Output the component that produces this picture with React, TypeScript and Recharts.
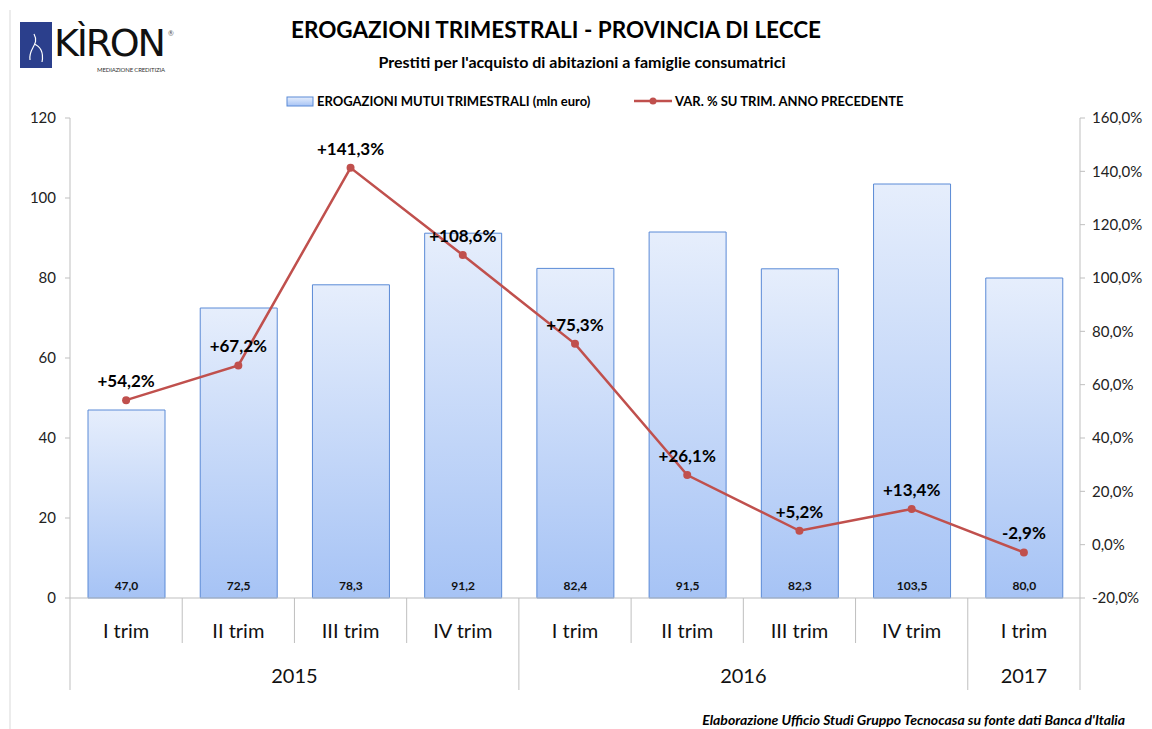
import React from "react";
import { ComposedChart, Bar, Line, XAxis, YAxis, LabelList } from "recharts";

const quarters = ["I trim", "II trim", "III trim", "IV trim", "I trim", "II trim", "III trim", "IV trim", "I trim"];
const years = ["2015", "2015", "2015", "2015", "2016", "2016", "2016", "2016", "2017"];
const volumes = [47.0, 72.5, 78.3, 91.2, 82.4, 91.5, 82.3, 103.5, 80.0];
const changes = [54.2, 67.2, 141.3, 108.6, 75.3, 26.1, 5.2, 13.4, -2.9];
const leftTicks = [0, 20, 40, 60, 80, 100, 120];
const rightTicks = [-20, 0, 20, 40, 60, 80, 100, 120, 140, 160];

const data = quarters.map((q, i) => ({
  q,
  year: years[i],
  volume: volumes[i],
  change: changes[i],
}));

const W = 1152;
const H = 729;
const margin = { top: 118, right: 0, bottom: 31, left: 20 };
const LEFT_AXIS_W = 50;
const RIGHT_AXIS_W = 72;
const X_AXIS_H = 100;
const plotWidth = W - margin.left - margin.right - LEFT_AXIS_W - RIGHT_AXIS_W;
const band = plotWidth / quarters.length;

const FONT = "Lato, 'Open Sans', sans-serif";
const GRID = "#bfbfbf";
const RED = "#c0504d";

const comma = (v: number) => v.toFixed(1).replace(".", ",");
const pct = (v: number) => (v > 0 ? "+" : "") + comma(v) + "%";

// two-level category axis: quarter on top, year below, with separators
const QuarterTick = (props: any) => {
  const { x, y, payload } = props;
  const i: number = payload.index ?? props.index;
  const left = x - band / 2;
  const right = x + band / 2;
  const firstOfYear = i === 0 || years[i] !== years[i - 1];
  let yearLabel = null;
  if (firstOfYear) {
    let n = 0;
    while (years[i + n] === years[i]) n++;
    yearLabel = (
      <text x={left + (n * band) / 2} y={y + 77} textAnchor="middle" dominantBaseline="central" fontSize={20} fill="#111" fontFamily={FONT}>
        {years[i]}
      </text>
    );
  }
  return (
    <g>
      <line x1={left} x2={left} y1={y} y2={y + (firstOfYear ? 92 : 45)} stroke={GRID} />
      {i === years.length - 1 && <line x1={right} x2={right} y1={y} y2={y + 92} stroke={GRID} />}
      <text x={x} y={y + 32} textAnchor="middle" dominantBaseline="central" fontSize={20} fill="#111" fontFamily={FONT}>
        {payload.value}
      </text>
      {yearLabel}
    </g>
  );
};

const Overlay = () => (
  <svg width={W} height={H} style={{ position: "absolute", left: 0, top: 0, pointerEvents: "none" }}>
    <defs>
      <linearGradient id="legGrad" x1="0" y1="0" x2="0" y2="1">
        <stop offset="0%" stopColor="#e6eefc" />
        <stop offset="100%" stopColor="#a6c3f5" />
      </linearGradient>
    </defs>
    <line x1={10} x2={10} y1={10} y2={H} stroke="#d9d9d9" />
    {/* logo */}
    <rect x={20} y={22} width={32} height={46} fill="#2b3f8c" />
    <path d="M30 60 C28 48 40 45 34 34 M34 44 C40 46 44 52 42 62" stroke="#ffffff" strokeWidth={1.2} fill="none" />
    <text x={54} y={56} fontSize={38} fontFamily="'DejaVu Sans', sans-serif" fill="#111" textLength={112}>KÌRON</text>
    <text x={168} y={36} fontSize={7} fill="#555" fontFamily={FONT}>®</text>
    <text x={97} y={72} fontSize={6} fill="#333" fontFamily={FONT} textLength={68}>MEDIAZIONE CREDITIZIA</text>
    {/* titles */}
    <text x={556} y={38} textAnchor="middle" fontSize={22.5} fontWeight="bold" fontFamily={FONT} fill="#000">
      EROGAZIONI TRIMESTRALI - PROVINCIA DI LECCE
    </text>
    <text x={582} y={68} textAnchor="middle" fontSize={16} fontWeight="bold" fontFamily={FONT} fill="#000">
      Prestiti per l'acquisto di abitazioni a famiglie consumatrici
    </text>
    {/* legend */}
    <rect x={287} y={97} width={26} height={9} fill="url(#legGrad)" stroke="#5a8ad6" />
    <text x={317} y={101} dominantBaseline="central" fontSize={13} fontWeight="bold" fontFamily={FONT} fill="#000">
      EROGAZIONI MUTUI TRIMESTRALI (mln euro)
    </text>
    <line x1={634} x2={672} y1={101} y2={101} stroke={RED} strokeWidth={2.5} />
    <circle cx={653} cy={101} r={3.5} fill={RED} />
    <text x={675} y={101} dominantBaseline="central" fontSize={13} fontWeight="bold" fontFamily={FONT} fill="#000">
      VAR. % SU TRIM. ANNO PRECEDENTE
    </text>
    {/* source */}
    <text x={1125} y={725} textAnchor="end" fontSize={14} fontWeight="bold" fontStyle="italic" fontFamily={FONT} fill="#000">
      Elaborazione Ufficio Studi Gruppo Tecnocasa su fonte dati Banca d'Italia
    </text>
  </svg>
);

const App: React.FC = () => {
  return (
    <div style={{ position: "absolute", left: 0, top: 0, width: W, height: H, background: "#fff", fontFamily: FONT }}>
      <ComposedChart width={W} height={H} data={data} margin={margin}>
        <defs>
          <linearGradient id="barGrad" x1="0" y1="0" x2="0" y2="1">
            <stop offset="0%" stopColor="#e6eefc" />
            <stop offset="100%" stopColor="#a6c3f5" />
          </linearGradient>
        </defs>
        <XAxis
          dataKey="q"
          interval={0}
          height={X_AXIS_H}
          tickLine={false}
          tickSize={0}
          tickMargin={0}
          stroke={GRID}
          tick={<QuarterTick />}
        />
        <YAxis
          yAxisId="left"
          domain={[0, 120]}
          ticks={leftTicks}
          width={LEFT_AXIS_W}
          tickSize={5}
          tickMargin={9}
          stroke={GRID}
          tick={{ fill: "#222", fontSize: 15, fontFamily: FONT }}
        />
        <YAxis
          yAxisId="right"
          orientation="right"
          domain={[-20, 160]}
          ticks={rightTicks}
          width={RIGHT_AXIS_W}
          tickSize={5}
          tickMargin={7}
          stroke={GRID}
          tickFormatter={(v: number) => comma(v) + "%"}
          tick={{ fill: "#222", fontSize: 15, fontFamily: FONT }}
        />
        <Bar yAxisId="left" dataKey="volume" barSize={77} fill="url(#barGrad)" stroke="#5a8ad6" strokeWidth={1} isAnimationActive={false}>
          <LabelList
            dataKey="volume"
            position="insideBottom"
            offset={8}
            formatter={(v: any) => comma(Number(v))}
            style={{ fontSize: 12, fontWeight: "bold", fill: "#111", fontFamily: FONT }}
          />
        </Bar>
        <Line
          yAxisId="right"
          dataKey="change"
          stroke={RED}
          strokeWidth={2.5}
          dot={{ r: 4, fill: RED, stroke: RED, strokeWidth: 0 }}
          activeDot={false}
          isAnimationActive={false}
        >
          <LabelList
            dataKey="change"
            position="top"
            offset={13}
            formatter={(v: any) => pct(Number(v))}
            style={{ fontSize: 17, fontWeight: "bold", fill: "#000", fontFamily: FONT }}
          />
        </Line>
      </ComposedChart>
      <Overlay />
    </div>
  );
};

export default App;
